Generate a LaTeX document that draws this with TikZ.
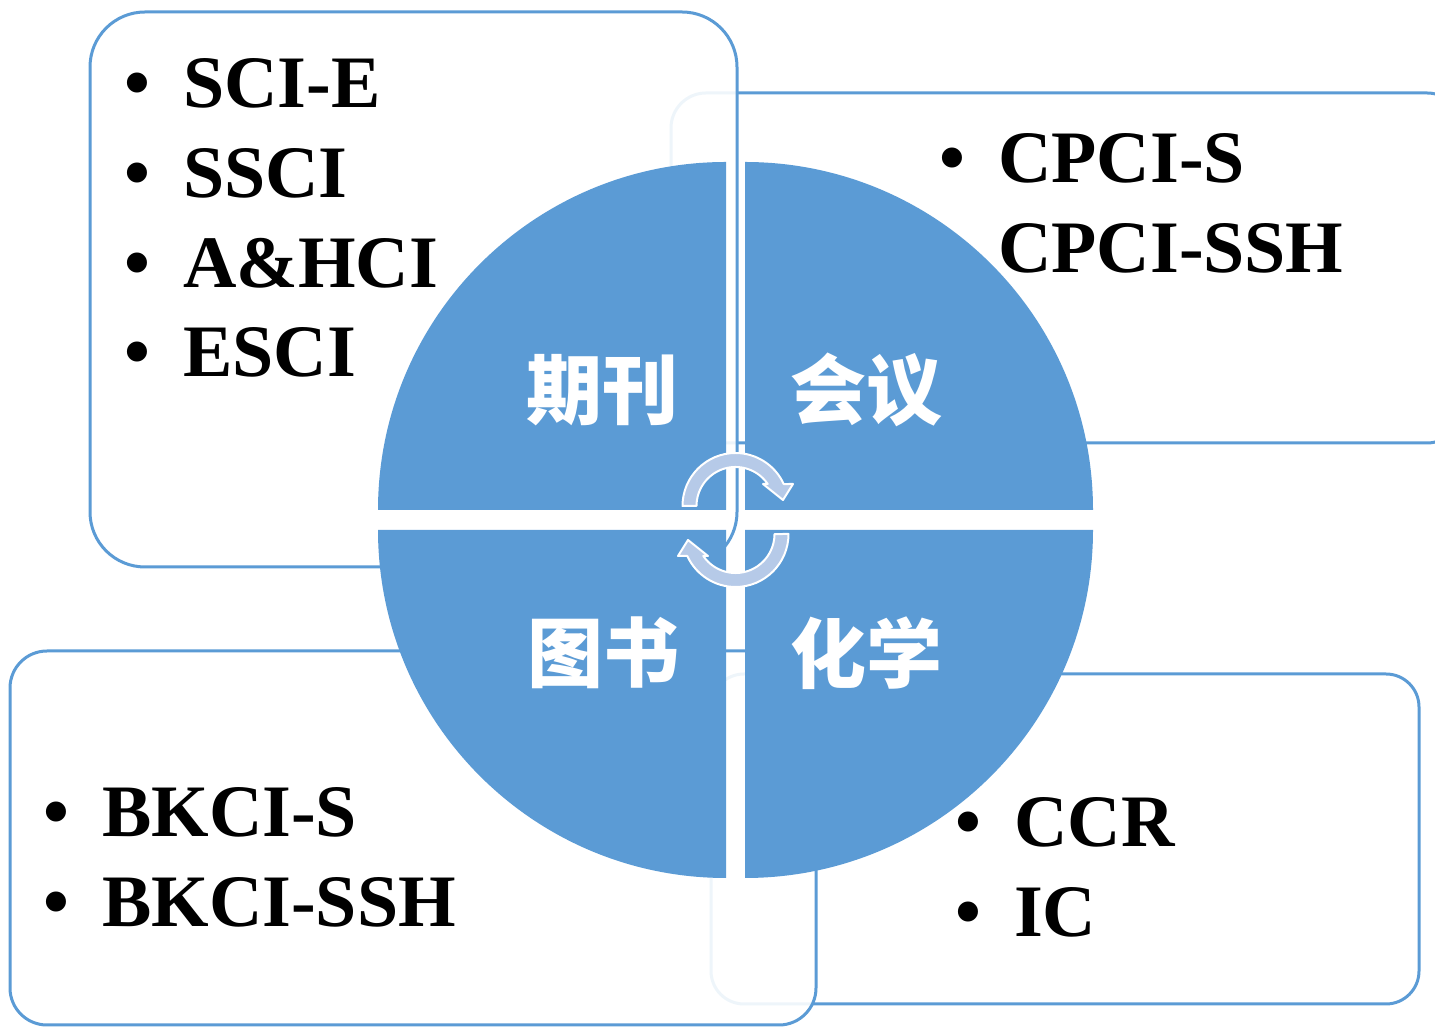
\documentclass[tikz,border=0pt]{standalone}
\usepackage{fontspec}
\setmainfont{Liberation Serif}
\newfontfamily\cjk{Noto Sans CJK SC}
\usetikzlibrary{calc}

\definecolor{quadblue}{HTML}{5B9BD5}
\definecolor{arrowblue}{HTML}{B6CAE8}

\newcommand{\bulletitem}[1]{\makebox[59pt][l]{\textbullet}#1}
\newcommand{\nobulletitem}[1]{\makebox[59pt][l]{}#1}

\tikzset{
    panel/.style={draw=quadblue, line width=3pt, rounded corners=#1, inner sep=0pt, outer sep=0pt},
    veil/.style={fill=white, fill opacity=0.9},
    entry/.style={anchor=base west, inner sep=0pt, font=\bfseries\fontsize{74pt}{90pt}\selectfont},
    quadlabel/.style={inner sep=0pt, text=white, font=\cjk\bfseries\fontsize{76pt}{80pt}\selectfont},
    cyclearrow/.style={fill=arrowblue, draw=white, line width=2pt, line join=round}
}

\begin{document}
\begin{tikzpicture}[line cap=round, x=1pt, y=1pt]
    \useasboundingbox (0,0) rectangle (1435,1027);
    \clip (0,0) rectangle (1435,1027);

    % panels behind the circle
    \node[panel=35pt, minimum width=791pt, minimum height=350pt] (confbox) at (1066.5,759) {};
    \node[panel=55pt, veil, minimum width=647pt, minimum height=555pt] (jourbox) at (413.5,737.5) {};
    \node[panel=33pt, minimum width=708pt, minimum height=330pt] (chembox) at (1065,188) {};
    \node[panel=37pt, veil, minimum width=806pt, minimum height=374pt] (bookbox) at (413,189) {};

    % quarter discs
    \foreach \cx/\cy/\a/\b in {726/517/180/90, 745/517/0/90, 726/497/180/270, 745/497/0/-90} {
            \fill[quadblue] (\cx,\cy) -- ++(\a:348pt) arc[start angle=\a, end angle=\b, radius=348pt] -- cycle;
        }

    \node[quadlabel] (jour) at (602,637) {期刊};
    \node[quadlabel] (conf) at (866,637) {会议};
    \node[quadlabel] (book) at (603,374) {图书};
    \node[quadlabel] (chem) at (866,374) {化学};

    % cycle arrows
    \foreach \rot in {0,180} {
            \begin{scope}[rotate around={\rot:(735.5,507)}, shift={(735.5,521)}]
                \filldraw[cyclearrow] (-53,0) arc[start angle=180, end angle=24.5, radius=53pt]
                -- (57.5,22) -- (47.5,6) -- (27.5,22) -- (32.2,22)
                arc[start angle=34.3, end angle=180, radius=39pt] -- cycle;
            \end{scope}
        }

    % lists
    \foreach \nm/\x/\y/\txt in {sci/124/919/SCI-E, ssci/124/829/SSCI, ahci/124/739/A\&HCI, esci/124/650/ESCI,
            cpcis/939/844/CPCI-S, bkcis/43/190/BKCI-S, bkcissh/43/100/BKCI-SSH,
            ccr/955/180/CCR, ic/955/90/IC} {
            \node[entry] (\nm) at (\x,\y) {\bulletitem{\txt}};
        }
    \node[entry] (cpcissh) at (939,754) {\nobulletitem{CPCI-SSH}};
\end{tikzpicture}
\end{document}
